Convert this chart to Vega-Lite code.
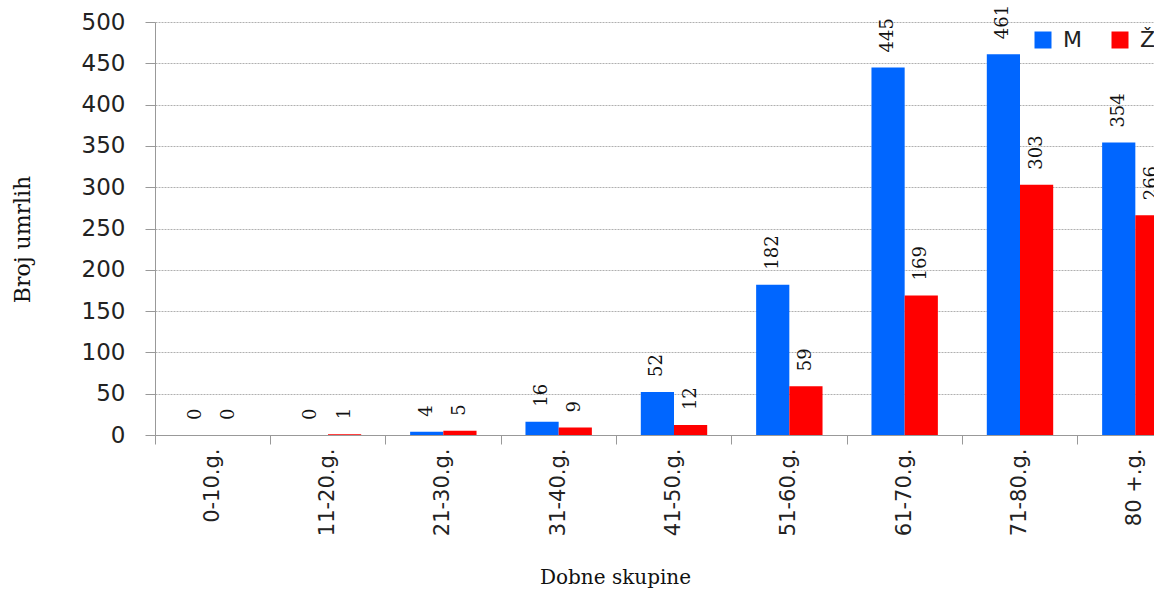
{
  "$schema": "https://vega.github.io/schema/vega-lite/v6.json",
  "width": 999,
  "height": 413,
  "autosize": {"type": "none"},
  "padding": {"left": 155, "top": 22, "right": 0, "bottom": 158},
  "background": "white",
  "config": {
    "view": {"stroke": null},
    "axis": {"domainColor": "#999999", "tickColor": "#999999", "labelColor": "#222222", "titleColor": "#111111", "titleFontWeight": "normal"},
    "legend": {"padding": 0}
  },
  "data": {
    "values": [
      {"group": "0-10.g.", "sex": "M", "count": 0},
      {"group": "0-10.g.", "sex": "Ž", "count": 0},
      {"group": "11-20.g.", "sex": "M", "count": 0},
      {"group": "11-20.g.", "sex": "Ž", "count": 1},
      {"group": "21-30.g.", "sex": "M", "count": 4},
      {"group": "21-30.g.", "sex": "Ž", "count": 5},
      {"group": "31-40.g.", "sex": "M", "count": 16},
      {"group": "31-40.g.", "sex": "Ž", "count": 9},
      {"group": "41-50.g.", "sex": "M", "count": 52},
      {"group": "41-50.g.", "sex": "Ž", "count": 12},
      {"group": "51-60.g.", "sex": "M", "count": 182},
      {"group": "51-60.g.", "sex": "Ž", "count": 59},
      {"group": "61-70.g.", "sex": "M", "count": 445},
      {"group": "61-70.g.", "sex": "Ž", "count": 169},
      {"group": "71-80.g.", "sex": "M", "count": 461},
      {"group": "71-80.g.", "sex": "Ž", "count": 303},
      {"group": "80 +.g.", "sex": "M", "count": 354},
      {"group": "80 +.g.", "sex": "Ž", "count": 266}
    ]
  },
  "encoding": {
    "x": {
      "field": "group",
      "type": "nominal",
      "sort": null,
      "scale": {"range": [0, 1038], "paddingInner": 0, "paddingOuter": 0},
      "axis": {
        "title": "Dobne skupine",
        "titleFont": "DejaVu Serif",
        "titleFontSize": 20,
        "titleX": 460,
        "titleY": 142,
        "titleAlign": "center",
        "titleBaseline": "middle",
        "bandPosition": 0,
        "labelAngle": -90,
        "labelAlign": "right",
        "labelBaseline": "middle",
        "labelFont": "DejaVu Sans",
        "labelFontSize": 21,
        "labelPadding": 4,
        "tickSize": 9,
        "grid": false
      }
    },
    "xOffset": {
      "field": "sex",
      "type": "nominal",
      "sort": ["M", "Ž"],
      "scale": {"paddingInner": 0, "paddingOuter": 0.737}
    },
    "y": {
      "field": "count",
      "type": "quantitative",
      "scale": {"domain": [0, 500], "nice": false},
      "axis": {
        "title": "Broj umrlih",
        "titleFont": "DejaVu Serif",
        "titleFontSize": 22,
        "titleAngle": -90,
        "titleX": -133,
        "titleY": 217,
        "titleAlign": "center",
        "titleBaseline": "middle",
        "values": [0, 50, 100, 150, 200, 250, 300, 350, 400, 450, 500],
        "labelFont": "DejaVu Sans",
        "labelFontSize": 23,
        "labelPadding": 20,
        "tickSize": 10,
        "grid": true,
        "gridColor": "#b0b0b0",
        "gridDash": [2, 1],
        "gridWidth": 1
      }
    }
  },
  "layer": [
    {
      "mark": {"type": "bar"},
      "encoding": {
        "color": {
          "field": "sex",
          "type": "nominal",
          "scale": {"domain": ["M", "Ž"], "range": ["#0066FF", "#FF0000"]},
          "legend": {
            "orient": "none",
            "legendX": 877,
            "legendY": 7,
            "direction": "horizontal",
            "title": null,
            "symbolType": "square",
            "symbolSize": 289,
            "symbolStrokeWidth": 0,
            "labelFont": "DejaVu Sans",
            "labelFontSize": 22,
            "labelColor": "#222222",
            "labelOffset": 9,
            "columnPadding": 27
          }
        }
      }
    },
    {
      "mark": {"type": "text", "angle": -90, "align": "left", "baseline": "middle", "dx": 15, "font": "DejaVu Serif", "fontSize": 18, "color": "#111111"},
      "encoding": {"text": {"field": "count", "type": "quantitative"}}
    }
  ]
}
